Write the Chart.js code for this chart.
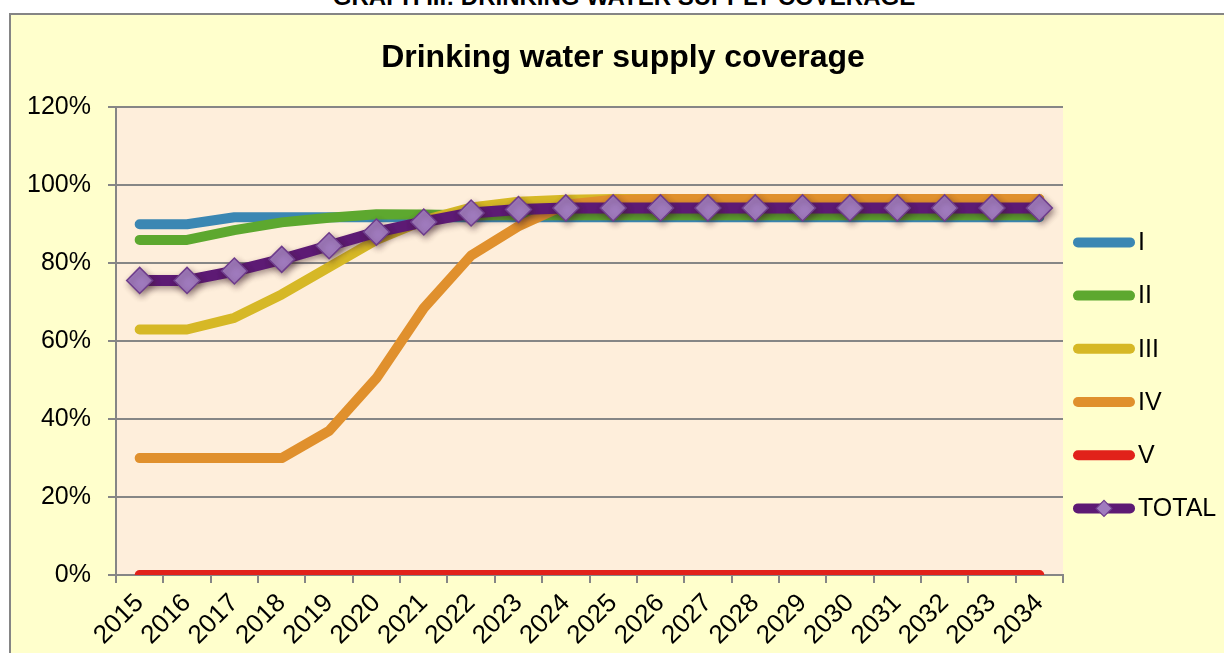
<!DOCTYPE html>
<html>
<head>
<meta charset="utf-8">
<script src="https://cdn.jsdelivr.net/npm/chart.js@4"></script>
<style>
  html, body { margin: 0; padding: 0; background: #ffffff; overflow: hidden; width: 1224px; height: 653px; }
  #frame { position: absolute; left: 9px; top: 13px; width: 1300px; height: 700px; background: #FFFFCC; border: 2px solid #858585; }
  #heading { position: absolute; left: 0; top: -15px; width: 1248px; text-align: center; font: bold 24px "Liberation Sans", Arial, sans-serif; line-height: 24px; color: #000; white-space: nowrap; }
  #c { position: absolute; left: 0; top: 0; }
</style>
</head>
<body>
<div id="frame"></div>
<div id="heading">GRAPH III: DRINKING WATER SUPPLY COVERAGE</div>
<canvas id="c" width="1224" height="653"></canvas>
<script>
const years = ['2015','2016','2017','2018','2019','2020','2021','2022','2023','2024','2025','2026','2027','2028','2029','2030','2031','2032','2033','2034'];
const seriesI     = [90, 90, 91.8, 91.8, 91.8, 91.8, 91.8, 91.8, 91.8, 91.8, 91.8, 91.8, 91.8, 91.8, 91.8, 91.8, 91.8, 91.8, 91.8, 91.8];
const seriesII    = [86, 86, 88.5, 90.5, 91.7, 92.6, 92.5, 92.3, 92.3, 92.3, 92.3, 92.3, 92.3, 92.3, 92.3, 92.3, 92.3, 92.3, 92.3, 92.3];
const seriesIII   = [63, 63, 66, 72, 79, 86, 91, 94.3, 95.8, 96.3, 96.5, 96.5, 96.5, 96.5, 96.5, 96.5, 96.5, 96.5, 96.5, 96.5];
const seriesIV    = [30, 30, 30, 30, 37, 50.5, 68.5, 82, 89.5, 95, 96.3, 96.5, 96.5, 96.5, 96.5, 96.5, 96.5, 96.5, 96.5, 96.5];
const seriesV     = [0, 0, 0, 0, 0, 0, 0, 0, 0, 0, 0, 0, 0, 0, 0, 0, 0, 0, 0, 0];
const seriesTOTAL = [75.6, 75.6, 78, 81, 84.5, 88, 90.6, 92.9, 93.8, 94.2, 94.2, 94.2, 94.2, 94.2, 94.2, 94.2, 94.2, 94.2, 94.2, 94.2];
const yTicks = [0, 20, 40, 60, 80, 100, 120];

const FONT = '"Liberation Sans", Arial, sans-serif';
const GRID = '#868686';

function lineDs(label, data, color, order) {
  return { label, data, borderColor: color, backgroundColor: color, borderWidth: 10,
           borderCapStyle: 'round', borderJoinStyle: 'round', pointRadius: 0, pointHoverRadius: 0,
           tension: 0, fill: false, order };
}

const datasets = [
  lineDs('I', seriesI, '#3B87B3', 5),
  lineDs('II', seriesII, '#5DA82F', 4),
  lineDs('III', seriesIII, '#D6B826', 3),
  lineDs('IV', seriesIV, '#E0902D', 2),
  lineDs('V', seriesV, '#E1221A', 1),
  { label: 'TOTAL', data: seriesTOTAL, borderColor: '#5D1A74', backgroundColor: '#5D1A74', borderWidth: 11,
    borderCapStyle: 'round', borderJoinStyle: 'round', tension: 0, fill: false, order: 0,
    pointStyle: 'rectRot', pointRadius: 13, pointHoverRadius: 13,
    pointBackgroundColor: '#A07BBE', pointBorderColor: '#6E3C8C', pointBorderWidth: 1.5 }
];

const plotBg = {
  id: 'plotBg',
  beforeDraw(chart) {
    const a = chart.chartArea, ctx = chart.ctx;
    ctx.save();
    ctx.fillStyle = '#FEEEDB';
    ctx.fillRect(a.left, a.top, a.right - a.left, a.bottom - a.top);
    ctx.restore();
  }
};

const markerShadow = {
  id: 'markerShadow',
  beforeDatasetDraw(chart, args) {
    if (chart.data.datasets[args.index].label === 'TOTAL') {
      const ctx = chart.ctx;
      ctx.save();
      ctx.shadowColor = 'rgba(60,30,40,0.45)';
      ctx.shadowBlur = 6;
      ctx.shadowOffsetX = 2;
      ctx.shadowOffsetY = 3;
    }
  },
  afterDatasetDraw(chart, args) {
    if (chart.data.datasets[args.index].label === 'TOTAL') chart.ctx.restore();
  }
};

const sideLegend = {
  id: 'sideLegend',
  afterDraw(chart, args, opts) {
    const ctx = chart.ctx, a = chart.chartArea;
    const x0 = a.right + opts.offsetX, x1 = x0 + opts.lineLen;
    chart.data.datasets.forEach((ds, i) => {
      const y = a.top + opts.offsetY + i * opts.step;
      ctx.save();
      ctx.strokeStyle = ds.borderColor;
      ctx.lineWidth = 10;
      ctx.lineCap = 'round';
      ctx.beginPath();
      ctx.moveTo(x0 + 5, y);
      ctx.lineTo(x1 - 5, y);
      ctx.stroke();
      if (ds.pointStyle === 'rectRot') {
        const cx = (x0 + x1) / 2, r = 8;
        ctx.fillStyle = ds.pointBackgroundColor;
        ctx.strokeStyle = ds.pointBorderColor;
        ctx.lineWidth = 1.2;
        ctx.beginPath();
        ctx.moveTo(cx - r, y); ctx.lineTo(cx, y - r); ctx.lineTo(cx + r, y); ctx.lineTo(cx, y + r);
        ctx.closePath();
        ctx.fill(); ctx.stroke();
      }
      ctx.fillStyle = '#000';
      ctx.font = '25px ' + FONT;
      ctx.textAlign = 'left';
      ctx.textBaseline = 'middle';
      ctx.fillText(ds.label, x1 + 3, y + 1);
      ctx.restore();
    });
  }
};

new Chart(document.getElementById('c'), {
  type: 'line',
  data: { labels: years, datasets },
  options: {
    responsive: false,
    animation: false,
    events: [],
    layout: { padding: { left: 22, right: 0, top: 0, bottom: 0 } },
    plugins: {
      legend: { display: false },
      tooltip: { enabled: false },
      title: {
        display: true,
        text: 'Drinking water supply coverage',
        color: '#000',
        font: { family: FONT, size: 32, weight: 'bold', lineHeight: 1.2 },
        padding: { top: 39, bottom: 30 }
      },
      sideLegend: { offsetX: 10, offsetY: 135, step: 53.2, lineLen: 62 }
    },
    scales: {
      x: {
        type: 'category',
        offset: true,
        grid: { display: true, drawOnChartArea: false, drawTicks: true, tickLength: 8, color: GRID, lineWidth: 2, offset: true },
        border: { display: true, color: GRID, width: 2 },
        ticks: { autoSkip: false, minRotation: 45, maxRotation: 45, color: '#000', padding: 5,
                 font: { family: FONT, size: 26 } },
        afterFit(s) { s.height = 78; }
      },
      y: {
        min: 0, max: 120,
        afterBuildTicks(s) { s.ticks = yTicks.map(v => ({ value: v })); },
        grid: { color: GRID, lineWidth: 2, tickLength: 8, drawTicks: true },
        border: { display: true, color: GRID, width: 2 },
        ticks: { color: '#000', padding: 17, font: { family: FONT, size: 25 },
                 callback: v => v + '%' },
        afterFit(s) { s.width = 94; }
      },
      yR: {
        position: 'right',
        display: true,
        grid: { display: false, drawTicks: false },
        border: { display: false },
        ticks: { display: false },
        afterFit(s) { s.width = 161; }
      }
    }
  },
  plugins: [plotBg, markerShadow, sideLegend]
});
</script>
</body>
</html>
